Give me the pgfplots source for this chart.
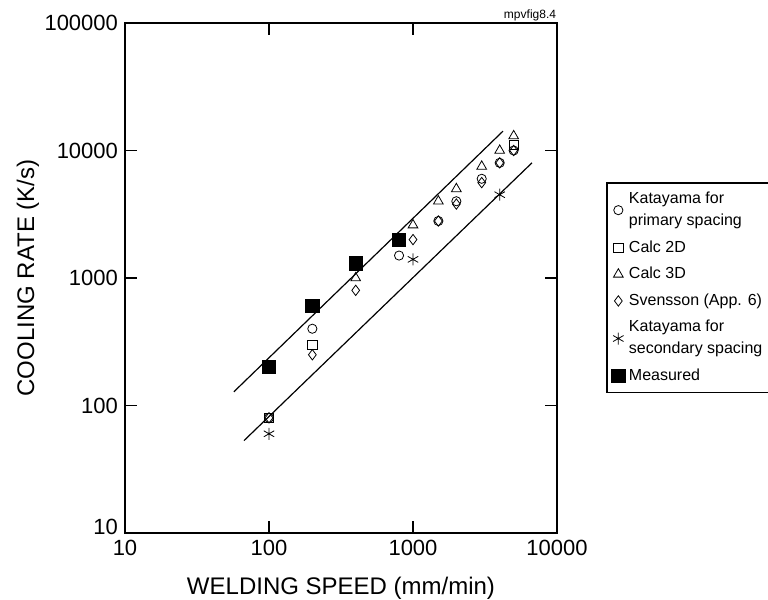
\documentclass[border=0pt]{standalone}
\usepackage{fontspec}
\setmainfont{Liberation Sans}
\usepackage{pgfplots}
\pgfplotsset{compat=1.18}
\begin{document}
\begin{tikzpicture}
\path[use as bounding box] (-62.5pt,-33.5pt) rectangle (321.5pt,266.5pt);
\begin{axis}[
  at={(0,0)}, anchor=south west,
  scale only axis, width=216pt, height=255pt,
  xmode=log, ymode=log,
  xmin=10, xmax=10000, ymin=10, ymax=100000,
  xtick={10,100,1000,10000},
  xticklabels={\textrm{10},\textrm{100},\textrm{1000},\textrm{10000}},
  ytick={10,100,1000,10000,100000},
  yticklabels={\raisebox{6pt}{\textrm{10}},\textrm{100},\textrm{1000},\textrm{10000},\textrm{100000}},
  xminorticks=false, yminorticks=false,
  tick align=inside, major tick length=6pt,
  tick style={line width=0.8pt, black},
  ticklabel style={font=\fontsize{11}{13}\selectfont},
  axis line style={line width=1pt},
  xlabel={WELDING SPEED (mm/min)},
  ylabel={COOLING RATE (K/s)},
  label style={font=\fontsize{12}{14}\selectfont},
  xlabel style={at={(axis description cs:0.5,-0.1078)}, anchor=center},
  ylabel style={at={(axis description cs:-0.2245,0.5)}, anchor=center},
  legend style={at={(rel axis cs:1.1134,0.688)}, anchor=north west,
    font=\fontsize{8}{11}\selectfont, cells={align=left},
    draw=black, line width=0.75pt, row sep=2pt, inner sep=2.5pt},
  legend cell align=left,
  clip=false,
]
% fitted lines
\addplot[forget plot, black, line width=0.6pt] coordinates {(57,128) (4220,14200)};
\addplot[forget plot, black, line width=0.6pt] coordinates {(67,53) (6700,8000)};

% Katayama for primary spacing
\addplot[only marks, mark=o, mark size=2.3pt, black, thin] coordinates {
(100,80) (200,400) (800,1500) (1500,2800) (2000,4000) (3000,6000) (4000,8000) (5000,10000)};
\addlegendentry{Katayama for\\primary spacing}
% Calc 2D
\addplot[only marks, mark=square, mark size=2.3pt, black, thin] coordinates {
(100,80) (200,300) (5000,11000)};
\addlegendentry{Calc 2D}
% Calc 3D
\addplot[only marks, mark=triangle, mark size=2.8pt, black, thin] coordinates {
(400,1000) (1000,2600) (1500,4000) (2000,5000) (3000,7500) (4000,10000) (5000,13000)};
\addlegendentry{Calc 3D}
% Svensson
\addplot[only marks, mark=diamond, mark size=2.6pt, black, thin] coordinates {
(100,80) (200,250) (400,800) (1000,2000) (1500,2800) (2000,3800) (3000,5600) (4000,8000) (5000,10000)};
\addlegendentry{Svensson (App. 6)}
% Katayama for secondary spacing
\addplot[only marks, mark=asterisk, mark size=3pt, black, thin] coordinates {
(100,60) (1000,1400) (4000,4500)};
\addlegendentry{Katayama for\\secondary spacing}
% Measured
\addplot[only marks, mark=square*, mark size=3.3pt, black] coordinates {
(100,200) (200,600) (400,1300) (800,2000)};
\addlegendentry{Measured}

\node[font=\fontsize{6}{7}\selectfont] at (rel axis cs:0.9375,1.0157) {mpvfig8.4};
\end{axis}
\end{tikzpicture}
\end{document}
